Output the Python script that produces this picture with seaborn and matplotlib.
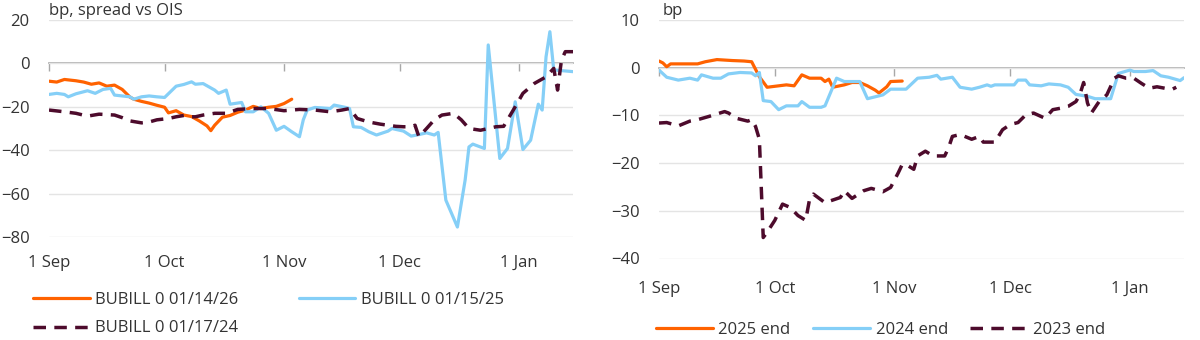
import numpy as np
import pandas as pd
import matplotlib
matplotlib.use("Agg")
import matplotlib.pyplot as plt
import matplotlib.dates as mdates
import matplotlib.ticker as mticker
import seaborn as sns

# ---------------- data (x = days after 1 Sep) ----------------
# Left panel: BUBILL spreads vs OIS (bp)
days_26 = [0, 2, 4, 7, 9, 11, 13, 15, 17, 19, 21, 22, 24, 26, 28, 30, 31, 33, 35, 37,
           39, 41, 42, 43, 45, 47, 49, 51, 53, 55, 57, 59, 61, 63]
vals_26 = [-8.2, -8.6, -7.4, -8.0, -8.6, -9.6, -9.0, -10.5, -10.0, -12.0, -15.5, -16.5,
           -17.5, -18.3, -19.3, -20.2, -22.8, -21.8, -23.8, -24.5, -26.5, -28.8, -31.0,
           -28.5, -24.8, -24.0, -22.5, -21.5, -19.8, -20.8, -20.2, -19.8, -18.5, -16.5]

days_25 = [0, 2, 4, 5, 7, 10, 12, 14, 16, 17, 21, 22, 24, 26, 28, 30, 33, 35, 37, 38,
           40, 43, 44, 46, 47, 50, 51, 53, 55, 57, 59, 61, 63, 65, 66, 67, 69, 73, 74, 77,
           78, 79, 81, 83, 85, 88, 89, 92, 94, 96, 98, 100, 101, 103, 106, 108, 109, 110,
           113, 114, 117, 119, 121, 123, 125, 127, 128, 129, 130, 131, 136]
vals_25 = [-14.3, -13.8, -14.3, -15.4, -14, -12.6, -13.8, -12, -11.5, -14.6,
           -15.4, -16.5, -15.4, -15, -15.4, -15.7, -10.5, -9.7, -8.5, -9.6,
           -9.3, -12.3, -13.8, -12.3, -18.8, -18, -22.3, -22.3, -20, -23,
           -30.8, -29, -31.5, -33.8, -26, -21.5, -20.3, -20.8, -19.2, -20.3,
           -20.8, -29.2, -29.5, -31.5, -33, -31.2, -30, -31.2, -33.5, -32.8,
           -32, -33, -31.8, -63, -75.4, -53.8, -38.5, -37.2, -39.2, 8.5,
           -43.8, -39.2, -17.7, -39.7, -35.4, -18.8, -21.5, 3, 14.6, -3, -3.8]

days_24 = [0, 4, 7, 10, 13, 17, 19, 21, 24, 26, 28, 31, 33, 35, 37, 38, 40, 43, 46, 49,
           53, 57, 61, 65, 69, 73, 76, 78, 80, 83, 86, 88, 90, 92, 94, 95, 96, 98, 100, 102,
           105, 107, 109, 112, 114, 116, 118, 121, 123, 126, 129, 131, 132, 133, 134, 136]
vals_24 = [-21.5, -22.3, -23, -24.3, -23.4, -23.8, -25, -26.5, -27.4, -27,
           -26, -25.4, -24.6, -24, -24.6, -24.6, -23.8, -23, -23, -21.2,
           -20.8, -20.8, -21.8, -21.2, -21.5, -22.3, -21.5, -20.8, -25.4, -27,
           -28, -28.5, -29, -29.2, -29.2, -28.5, -33.8, -30, -26, -23.8,
           -23, -26, -30, -30.8, -30, -29.2, -29, -20, -13.8, -9.2,
           -6.2, -2.3, -12.3, 1.5, 5.4, 5.4]

# Right panel: year-end spreads (bp)
days_2025e = [0, 1, 2, 3, 5, 7, 10, 12, 15, 17, 19, 22, 24, 26, 28, 31, 33, 35, 37, 39,
              42, 43, 44, 45, 48, 50, 52, 54, 56, 57, 59, 60, 63]
vals_2025e = [1.4, 1.0, 0.2, 0.8, 0.8, 0.8, 0.8, 1.25, 1.7, 1.6,
              1.5, 1.4, 1.25, -1.9, -4.1, -3.8, -3.6, -3.8, -1.5, -2.2,
              -2.2, -2.9, -2.4, -4.1, -3.6, -3.1, -3.1, -3.8, -4.7, -5.3,
              -4.0, -2.9, -2.8]

days_2024e = [0, 2, 5, 8, 10, 11, 14, 16, 18, 21, 24, 25, 26, 27, 29, 31, 33, 36, 37, 39,
              42, 43, 46, 48, 52, 54, 58, 60, 64, 67, 70, 72, 73, 76, 78, 81, 83, 85, 86, 87,
              92, 93, 95, 96, 99, 101, 104, 106, 108, 111, 113, 117, 119, 122, 123, 126, 128,
              130, 132, 135, 136]
vals_2024e = [-0.5, -2, -2.6, -2.2, -2.6, -1.5, -2.2, -2.2, -1.3, -1,
              -1.1, -1.7, -1.0, -6.9, -7.1, -8.8, -8, -8, -7.1, -8.3,
              -8.3, -8, -2.2, -2.9, -2.9, -6.5, -5.7, -4.5, -4.5, -2.2,
              -2, -1.6, -2.4, -2.0, -4.1, -4.5, -4.1, -3.6, -3.9, -3.6,
              -3.6, -2.6, -2.6, -3.6, -3.8, -3.4, -3.6, -4.1, -5.6, -6,
              -6.5, -6.5, -1.2, -0.5, -0.8, -0.8, -0.6, -1.7, -2.0, -2.7, -2.1]

days_2023e = [0, 2, 5, 8, 10, 13, 17, 18, 20, 23, 24, 25, 26, 27, 28, 30, 32, 34, 36, 38,
              39, 40, 43, 47, 48, 50, 53, 55, 58, 60, 62, 63, 64, 66, 67, 69, 71, 74, 75, 76,
              78, 81, 83, 84, 87, 89, 91, 93, 95, 97, 100, 102, 104, 106, 108, 109, 110, 111,
              112, 114, 116, 118, 119, 121, 123, 125, 127, 129, 131, 133, 134]
vals_2023e = [-11.6, -11.5, -12.2, -11.2, -10.9, -10.2, -9.2, -9.5, -10.6, -11.2,
              -10.9, -12.3, -15, -35.6, -34.5, -32, -28.6, -29.3, -31, -32,
              -27.6, -26.5, -28.3, -27.2, -25.8, -27.4, -25.8, -25.3, -26, -25.1,
              -22, -20.3, -20.3, -21.3, -18.5, -17.5, -18.5, -18.5, -16.8, -14.4,
              -14, -15, -14.4, -15.6, -15.6, -13, -11.9, -11.5, -9.9, -9.5,
              -10.6, -8.8, -8.5, -8.1, -7.1, -5.7, -3.1, -7.4, -9.5, -7.1,
              -5.7, -2.2, -1.7, -2.2, -2.2, -3.3, -4.3, -4, -4.3, -4.5, -4.1]

left_labels = ["BUBILL 0 01/14/26", "BUBILL 0 01/15/25", "BUBILL 0 01/17/24"]
right_labels = ["2025 end", "2024 end", "2023 end"]
left_yticks = [-80, -60, -40, -20, 0, 20]
right_yticks = [-40, -30, -20, -10, 0, 10]
left_title = "bp, spread vs OIS"
right_title = "bp"

START = pd.Timestamp("2023-09-01")
END = pd.Timestamp("2024-01-15")

ORANGE = "#FF6200"
BLUE = "#85CFF7"
MAROON = "#4D0B2C"
GRID = "#E4E4E4"
ZERO = "#A8A8A8"
TXT = "#333333"
FS = 12.0

# ---------------- style ----------------
sns.set_theme(style="white")
plt.rcParams['font.family'] = ['Open Sans', 'DejaVu Sans']


def frame(days, vals):
    return pd.DataFrame({"date": START + pd.to_timedelta(days, unit="D"), "value": vals})


fig = plt.figure(figsize=(12, 3.4), dpi=100)
ax1 = fig.add_axes([49 / 1200, 1 - 237 / 340, (573 - 49) / 1200, (237 - 20) / 340])
ax2 = fig.add_axes([659 / 1200, 1 - 258.5 / 340, (1184 - 659) / 1200, (258.5 - 20) / 340])

DASH = (0, (3.6, 2.4))


def draw(ax, series):
    lines = []
    for (d, v, col, ls, lw) in series:
        sns.lineplot(data=frame(d, v), x="date", y="value", ax=ax, color=col,
                     linewidth=lw, legend=False, zorder=3)
        ln = ax.get_lines()[-1]
        ln.set_linestyle(ls)
        ln.set_solid_joinstyle("round")
        lines.append(ln)
    return lines


l_lines = draw(ax1, [(days_26, vals_26, ORANGE, "-", 2.3),
                     (days_25, vals_25, BLUE, "-", 2.3),
                     (days_24, vals_24, MAROON, DASH, 2.5)])
r_lines = draw(ax2, [(days_2025e, vals_2025e, ORANGE, "-", 2.3),
                     (days_2024e, vals_2024e, BLUE, "-", 2.3),
                     (days_2023e, vals_2023e, MAROON, DASH, 2.5)])

for ax, yt, lab_pad in [(ax1, left_yticks, 13), (ax2, right_yticks, 16)]:
    ax.set_xlim(START, END)
    ax.set_ylim(min(yt), max(yt))
    ax.set_yticks(yt)
    ax.set_xlabel("")
    ax.set_ylabel("")
    for s in ax.spines.values():
        s.set_visible(False)
    ax.yaxis.grid(True, color=GRID, linewidth=1.0, zorder=0)
    ax.xaxis.grid(False)
    ax.set_axisbelow(True)
    ax.xaxis.set_major_locator(mdates.MonthLocator(bymonthday=1))
    ax.xaxis.set_major_formatter(mdates.DateFormatter("%-d %b"))
    ax.tick_params(axis="x", length=0, pad=lab_pad, labelsize=FS, labelcolor=TXT)
    ax.tick_params(axis="y", length=0, pad=14, labelsize=FS, labelcolor=TXT)

    # zero line with month tick marks hanging below it (twin x axis, spine at y=0)
    tw = ax.twiny()
    tw.set_xlim(ax.get_xlim())
    tw.xaxis.set_major_locator(mdates.MonthLocator(bymonthday=1))
    tw.xaxis.set_major_formatter(mticker.NullFormatter())
    tw.xaxis.set_ticks_position("bottom")
    tw.spines["bottom"].set_position(("data", 0))
    tw.spines["bottom"].set_visible(True)
    tw.spines["bottom"].set_color(ZERO)
    tw.spines["bottom"].set_linewidth(1.2)
    tw.spines["bottom"].set_zorder(1)
    for k in ["top", "left", "right"]:
        tw.spines[k].set_visible(False)
    tw.tick_params(axis="x", length=6, width=1.0, color=ZERO, direction="out",
                   bottom=True, top=False, labelbottom=False, labeltop=False)
    tw.set_zorder(ax.get_zorder() - 1)
    ax.patch.set_visible(False)

ax1.text(0, 1.022, left_title, transform=ax1.transAxes, ha="left", va="baseline",
         fontsize=FS, color=TXT)
ax2.text(0.007, 1.022, right_title, transform=ax2.transAxes, ha="left", va="baseline",
         fontsize=FS, color=TXT)

fig.legend(handles=[l_lines[0], l_lines[2], l_lines[1]],
           labels=[left_labels[0], left_labels[2], left_labels[1]],
           ncol=2, loc="upper left", bbox_to_anchor=(33 / 1200, 1 - 292 / 340),
           frameon=False, fontsize=FS, handlelength=3.4, handletextpad=0.35,
           columnspacing=3.6, labelspacing=0.75, borderpad=0, borderaxespad=0,
           labelcolor=TXT)
fig.legend(handles=r_lines, labels=right_labels,
           ncol=3, loc="upper left", bbox_to_anchor=(656 / 1200, 1 - 322 / 340),
           frameon=False, fontsize=FS, handlelength=3.4, handletextpad=0.35,
           columnspacing=1.35, borderpad=0, borderaxespad=0, labelcolor=TXT)

fig.savefig("out.png", dpi=100)
